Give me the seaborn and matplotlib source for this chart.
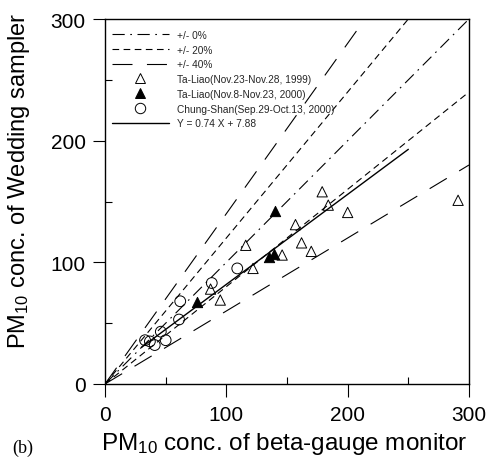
import numpy as np
import pandas as pd
import matplotlib
matplotlib.use("Agg")
import matplotlib.pyplot as plt
import seaborn as sns

# Ta-Liao (Nov.23-Nov.28, 1999) -- open triangles
taliao99_x = [87, 95, 116, 122, 146, 157, 162, 170, 179, 184, 200, 291]
taliao99_y = [78, 69, 114, 95, 106, 131, 116, 109, 158, 147, 141, 151]

# Ta-Liao (Nov.8-Nov.23, 2000) -- filled triangles
taliao00_x = [76, 135, 139, 140]
taliao00_y = [67, 104, 107, 142]

# Chung-Shan (Sep.29-Oct.13, 2000) -- open circles
chung_x = [33, 37, 41, 46, 50, 61, 62, 88, 109]
chung_y = [36, 35, 32, 43, 36, 53, 68, 83, 95]

# regression Y = 0.74 X + 7.88
reg_slope = 0.74
reg_icpt = 7.88
reg_range = [30, 250]

# +/- lines (slope, x end)
ref_lines = {
    "+/- 0%": [(1.0, 300)],
    "+/- 20%": [(1.2, 250), (0.8, 300)],
    "+/- 40%": [(1.4, 215), (0.6, 300)],
}
ref_dash = {
    "+/- 0%": (0, (11, 5, 1.5, 5)),
    "+/- 20%": (0, (6, 4)),
    "+/- 40%": (0, (18, 13)),
}

labels = [
    "Ta-Liao(Nov.23-Nov.28, 1999)",
    "Ta-Liao(Nov.8-Nov.23, 2000)",
    "Chung-Shan(Sep.29-Oct.13, 2000)",
    "Y = 0.74 X + 7.88",
]

sns.set_theme(style="ticks")
plt.rcParams["font.family"] = ["Liberation Sans", "DejaVu Sans"]
plt.rcParams["mathtext.fontset"] = "custom"
plt.rcParams["mathtext.rm"] = "Liberation Sans"
plt.rcParams["mathtext.it"] = "Liberation Sans"

fig = plt.figure(figsize=(4.9, 4.6), dpi=100)
ax = fig.add_axes([105 / 490, 1 - 385 / 460, 364 / 490, 365 / 460])

handles = []
# reference lines
for name, segs in ref_lines.items():
    h = None
    for slope, xend in segs:
        xs = np.array([0, xend])
        df = pd.DataFrame({"x": xs, "y": slope * xs})
        sns.lineplot(data=df, x="x", y="y", ax=ax, color="black", lw=0.8,
                     linestyle=ref_dash[name], legend=False)
        h = ax.lines[-1]
    h.set_label(name)
    handles.append(h)

# scatter series
mk = dict(s=55, linewidth=0.7, legend=False, zorder=3)
df1 = pd.DataFrame({"x": taliao99_x, "y": taliao99_y})
sns.scatterplot(data=df1, x="x", y="y", ax=ax, marker="^", facecolor="none",
                edgecolor="black", **mk)
df2 = pd.DataFrame({"x": taliao00_x, "y": taliao00_y})
sns.scatterplot(data=df2, x="x", y="y", ax=ax, marker="^", color="black",
                edgecolor="black", **mk)
df3 = pd.DataFrame({"x": chung_x, "y": chung_y})
sns.scatterplot(data=df3, x="x", y="y", ax=ax, marker="o", facecolor="none",
                edgecolor="black", s=60, linewidth=0.7, legend=False, zorder=3)

# regression line
rx = np.array(reg_range)
df4 = pd.DataFrame({"x": rx, "y": reg_slope * rx + reg_icpt})
sns.lineplot(data=df4, x="x", y="y", ax=ax, color="black", lw=1.0, legend=False)
reg_h = ax.lines[-1]

h_tri_o = plt.Line2D([], [], marker="^", ls="none", mfc="none", mec="black", ms=7.5, mew=0.7)
h_tri_f = plt.Line2D([], [], marker="^", ls="none", mfc="black", mec="black", ms=7.5, mew=0.7)
h_circ = plt.Line2D([], [], marker="o", ls="none", mfc="none", mec="black", ms=7.5, mew=0.7)
handles += [h_tri_o, h_tri_f, h_circ, reg_h]
leg_labels = list(ref_lines.keys()) + labels

ax.legend(handles, leg_labels, loc="upper left", bbox_to_anchor=(0.0, 0.99),
          frameon=False, fontsize=7.3, handlelength=5.6, handletextpad=0.8,
          labelspacing=0.47, borderaxespad=0.3)

ax.set_xlim(0, 300)
ax.set_ylim(0, 300)
ax.set_xticks([0, 100, 200, 300])
ax.set_yticks([0, 100, 200, 300])
ax.set_xticks([50, 150, 250], minor=True)
ax.set_yticks([50, 150, 250], minor=True)
ax.tick_params(which="major", direction="out", length=9, width=0.8, labelsize=15,
               color="black", labelcolor="black")
ax.tick_params(axis="x", which="major", pad=6)
ax.tick_params(axis="y", which="major", pad=5)
ax.tick_params(which="minor", direction="in", length=5, width=0.8, color="black")
for sp in ax.spines.values():
    sp.set_visible(True)
    sp.set_linewidth(1.0)
    sp.set_color("black")

ax.set_xlabel(r"PM$_{\mathregular{10}}$ conc. of beta-gauge monitor", fontsize=17.5,
              color="black")
ax.set_ylabel(r"PM$_{\mathregular{10}}$ conc. of Wedding sampler", fontsize=17,
              color="black")
ax.xaxis.set_label_coords(0.492, -0.125)
ax.yaxis.set_label_coords(-0.2, 0.56)
fig.text(12 / 490, 1 - 448 / 460, "(b)", family="Liberation Serif", fontsize=13,
         va="center", ha="left", color="black")

fig.savefig("out.png", dpi=100)
